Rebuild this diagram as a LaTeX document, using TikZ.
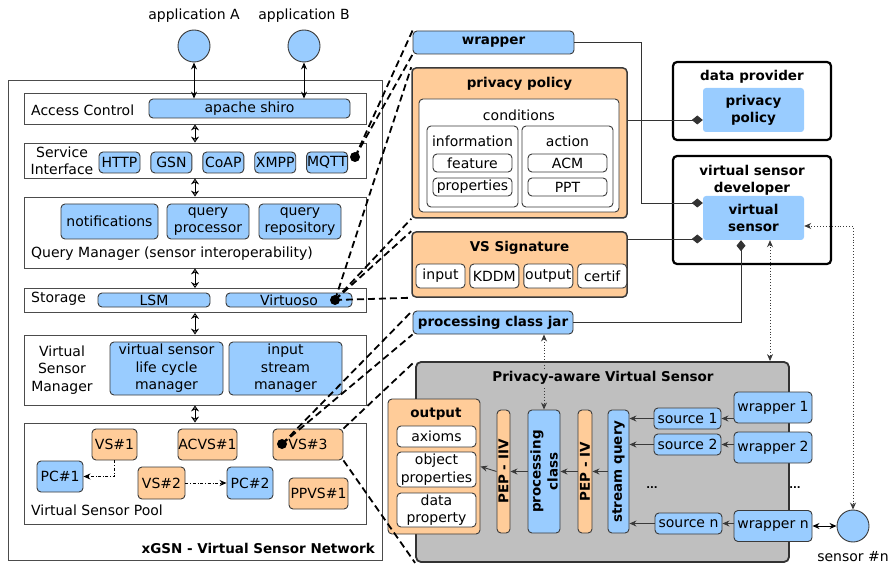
\documentclass[tikz,border=0pt]{standalone}
\usepackage{fontspec}
\setmainfont{DejaVu Sans}
\usepackage{tikz}
\usetikzlibrary{arrows.meta, positioning, calc, shapes.geometric}
\definecolor{skyBlue}{HTML}{99CCFF}
\definecolor{peach}{HTML}{FFCC99}
\definecolor{pavsGray}{HTML}{BFBFBF}
\definecolor{edgeGray}{HTML}{3A3A3A}
\tikzstyle{txt} = [inner sep=0pt, align=center]
\tikzstyle{head} = [inner sep=0pt, align=center, font=\fontsize{13.5}{17}\selectfont\bfseries]
\tikzstyle{rowbox} = [rectangle, draw=black!70, line width=0.8pt, inner sep=0pt]
\tikzstyle{bluebox} = [rectangle, rounded corners=4pt, draw=edgeGray, line width=0.9pt,
  fill=skyBlue, inner sep=0pt, align=center]
\tikzstyle{peachbox} = [bluebox, fill=peach]
\tikzstyle{whitebox} = [bluebox, fill=white]
\tikzstyle{ownerbox} = [rectangle, rounded corners=4pt, draw=black, line width=2.2pt, inner sep=0pt]
\tikzstyle{softbox} = [rectangle, rounded corners=3pt, fill=skyBlue, inner sep=0pt, align=center,
  font=\fontsize{13.5}{17}\selectfont\bfseries]
\tikzstyle{blob} = [circle, fill=black, minimum size=10pt, inner sep=0pt]
\tikzstyle{actor} = [circle, draw=edgeGray, fill=skyBlue, minimum size=32pt, inner sep=0pt, line width=0.9pt]
\tikzstyle{arw} = [-{Stealth[length=7pt,width=6pt]}, line width=0.9pt, color=edgeGray]
\tikzstyle{dbl} = [{Stealth[length=7pt,width=6pt]}-{Stealth[length=7pt,width=6pt]}, line width=0.9pt, color=black]
\tikzstyle{rowarw} = [{Stealth[length=6pt,width=8pt,open]}-{Stealth[length=6pt,width=8pt,open]}, line width=0.9pt]
\tikzstyle{dotarw} = [{Stealth[length=7pt,width=6pt]}-{Stealth[length=7pt,width=6pt]}, dotted, line width=0.9pt, color=edgeGray]
\tikzstyle{dasharw} = [-{Stealth[length=7pt,width=6pt]}, dash dot, line width=0.9pt]
\tikzstyle{owns} = [-{Diamond[length=11pt,width=9pt]}, line width=0.9pt, color=black!80]
\tikzstyle{zoomln} = [dash pattern=on 7pt off 4pt, line width=1.8pt]

\begin{document}
\begin{tikzpicture}[x=1pt, y=-1pt, font=\fontsize{14}{17.5}\selectfont]
  \useasboundingbox (0,0) rectangle (889,564);

  % Applications
  \node[actor] (appA) at (194,46) {};
  \node[actor] (appB) at (304,46) {};
  \node[txt] (appAlbl) at (194,16) {application A};
  \node[txt] (appBlbl) at (304,16) {application B};

  % xGSN frame
  \node[rowbox, minimum width=374, minimum height=480] (xgsn) at (195,320) {};
  \node[head, anchor=east] (xgsnlbl) at (375,548) {xGSN - Virtual Sensor Network};

  % Access control
  \node[rowbox, minimum width=342, minimum height=31] (acc) at (195,108.5) {};
  \node[txt, anchor=west] (acclbl) at (31,110) {Access Control};
  \node[bluebox, minimum width=201, minimum height=19] (shiro) at (249.5,108.5) {apache shiro};

  % Service interface
  \node[rowbox, minimum width=342, minimum height=35] (svc) at (195,160.5) {};
  \node[txt] (svclbl) at (62,161) {Service\\Interface};
  \node[bluebox, minimum width=41, minimum height=21] (http) at (119.5,162.5) {HTTP};
  \node[bluebox, minimum width=41, minimum height=21, right=10pt of http] (gsn) {GSN};
  \node[bluebox, minimum width=41, minimum height=21, right=10pt of gsn] (coap) {CoAP};
  \node[bluebox, minimum width=41, minimum height=21, right=10pt of coap] (xmpp) {XMPP};
  \node[bluebox, minimum width=41, minimum height=21, right=10pt of xmpp] (mqtt) {MQTT};
  \node[blob] (mqdot) at (355,157) {};

  % Query manager
  \node[rowbox, minimum width=342, minimum height=71] (qm) at (195,232.5) {};
  \node[bluebox, minimum width=97, minimum height=35] (notif) at (109.5,221.5) {notifications};
  \node[bluebox, minimum width=82, minimum height=35] (qproc) at (208,221.5) {query\\processor};
  \node[bluebox, minimum width=82, minimum height=35] (qrepo) at (300,221.5) {query\\repository};
  \node[txt, anchor=west] (qmlbl) at (31,254) {Query Manager (sensor interoperability)};

  % Storage
  \node[rowbox, minimum width=342, minimum height=24] (sto) at (195,300.5) {};
  \node[txt, anchor=west] (stolbl) at (31,299) {Storage};
  \node[bluebox, minimum width=112, minimum height=14] (lsm) at (154,300) {LSM};
  \node[bluebox, minimum width=126, minimum height=14] (virt) at (289,300) {Virtuoso};
  \node[blob] (virtdot) at (335,300) {};

  % Virtual sensor manager
  \node[rowbox, minimum width=342, minimum height=70] (vsm) at (195,370) {};
  \node[txt] (vsmlbl) at (62,370) {Virtual\\Sensor\\Manager};
  \node[bluebox, minimum width=113, minimum height=53] (lcm) at (166.5,368.5) {virtual sensor\\life cycle\\manager};
  \node[bluebox, minimum width=113, minimum height=53] (ism) at (285.5,368.5) {input\\stream\\manager};

  % Virtual sensor pool
  \node[rowbox, minimum width=342, minimum height=101] (pool) at (195,473.5) {};
  \node[peachbox, minimum width=45, minimum height=31] (vs1) at (114.5,444.5) {VS\#1};
  \node[peachbox, minimum width=59, minimum height=31] (acvs1) at (207.5,444.5) {ACVS\#1};
  \node[peachbox, minimum width=70, minimum height=31] (vs3) at (308,444.5) {VS\#3};
  \node[bluebox, minimum width=46, minimum height=31] (pc1) at (60,476.5) {PC\#1};
  \node[peachbox, minimum width=47, minimum height=32] (vs2) at (161.5,483) {VS\#2};
  \node[bluebox, minimum width=46, minimum height=32] (pc2) at (250,483) {PC\#2};
  \node[peachbox, minimum width=59, minimum height=31] (ppvs1) at (318.5,493.5) {PPVS\#1};
  \node[blob] (vs3dot) at (282,444) {};
  \node[txt, anchor=west] (poollbl) at (31,510) {Virtual Sensor Pool};

  % Arrows in xGSN
  \draw[dbl] (appA.south) -- (appA.south |- shiro.north);
  \draw[dbl] (appB.south) -- (appB.south |- shiro.north);
  \foreach \a/\b in {acc/svc, svc/qm, qm/sto, sto/vsm, vsm/pool} {
    \draw[rowarw] (\a.south) -- (\b.north);
  }
  \draw[dasharw] (vs1.south) |- (pc1.east);
  \draw[dasharw] (vs2.east) -- (pc2.west);

  % Wrapper and privacy policy
  \node[bluebox, font=\fontsize{13.5}{17}\selectfont\bfseries, minimum width=161, minimum height=23] (wrap) at (493.5,42.5) {wrapper};
  \node[peachbox, line width=1.5pt, minimum width=215, minimum height=150] (pp) at (519.5,143) {};
  \node[head] (pptitle) at (519.5,84) {privacy policy};
  \node[whitebox, minimum width=200, minimum height=113] (cond) at (519,155.5) {};
  \node[txt] (condlbl) at (519,115) {conditions};
  \node[whitebox, minimum width=91, minimum height=81] (info) at (472.5,166.5) {};
  \node[txt] (infolbl) at (472.5,141) {information};
  \node[whitebox, minimum width=79, minimum height=18] (feat) at (472.5,163) {feature};
  \node[whitebox, minimum width=79, minimum height=18] (props) at (472.5,187) {properties};
  \node[whitebox, minimum width=91, minimum height=81] (act) at (567.5,166.5) {};
  \node[txt] (actlbl) at (567.5,141) {action};
  \node[whitebox, minimum width=79, minimum height=18] (acm) at (567.5,163) {ACM};
  \node[whitebox, minimum width=79, minimum height=18] (ppt) at (567.5,187) {PPT};

  % VS signature
  \node[peachbox, line width=1.5pt, minimum width=215, minimum height=65] (sig) at (519.5,264.5) {};
  \node[head] (sigtitle) at (519.5,248) {VS Signature};
  \node[whitebox, minimum width=49, minimum height=24] (sin) at (440.5,276) {input};
  \node[whitebox, minimum width=49, minimum height=24, right=4pt of sin] (skddm) {KDDM};
  \node[whitebox, minimum width=49, minimum height=24, right=4pt of skddm] (sout) {output};
  \node[whitebox, minimum width=49, minimum height=24, right=4pt of sout] (scert) {certif};

  \node[bluebox, font=\fontsize{13.5}{17}\selectfont\bfseries, minimum width=160, minimum height=23] (jar) at (493,322.5) {processing class jar};

  % Owners
  \node[ownerbox, minimum width=158, minimum height=78] (dp) at (752,101) {};
  \node[head] (dplbl) at (752,77) {data provider};
  \node[softbox, minimum width=101, minimum height=44] (dppol) at (753.5,110) {privacy\\policy};
  \node[ownerbox, minimum width=158, minimum height=108] (vsd) at (752,210) {};
  \node[head] (vsdlbl) at (752,180) {virtual sensor\\developer};
  \node[softbox, minimum width=101, minimum height=44] (vsens) at (753.5,218) {virtual\\sensor};

  % Privacy-aware virtual sensor
  \node[rectangle, rounded corners=5pt, draw=black!80, line width=1.8pt, fill=pavsGray,
    minimum width=373, minimum height=200] (pavs) at (602.5,462) {};
  \node[peachbox, minimum width=92, minimum height=135] (out) at (434,466.5) {};
  \node[head] (outlbl) at (436,414) {output};
  \node[whitebox, minimum width=79, minimum height=21] (axi) at (436.5,436.5) {axioms};
  \node[whitebox, minimum width=79, minimum height=35] (objp) at (436.5,469.5) {object\\properties};
  \node[whitebox, minimum width=79, minimum height=34] (datp) at (436.5,510) {data\\property};
  \node[peachbox, rotate=90, font=\fontsize{13.5}{17}\selectfont\bfseries, minimum width=123, minimum height=13] (pep2) at (503.5,471.5) {PEP - IIV};
  \node[bluebox, rotate=90, font=\fontsize{13.5}{17}\selectfont\bfseries, minimum width=123, minimum height=32] (pclass) at (544,471.5) {processing\\class};
  \node[peachbox, rotate=90, font=\fontsize{13.5}{17}\selectfont\bfseries, minimum width=123, minimum height=14] (pep4) at (585,471.5) {PEP - IV};
  \node[bluebox, rotate=90, font=\fontsize{13.5}{17}\selectfont\bfseries, minimum width=123, minimum height=21] (sq) at (618.5,471.5) {stream query};
  \node[bluebox, minimum width=67, minimum height=21] (s1) at (687.5,418.5) {source 1};
  \node[bluebox, minimum width=67, minimum height=21] (s2) at (687.5,444.5) {source 2};
  \node[bluebox, minimum width=67, minimum height=21] (sn) at (688.5,523.5) {source n};
  \node[bluebox, minimum width=78, minimum height=31] (w1) at (773,407.5) {wrapper 1};
  \node[bluebox, minimum width=78, minimum height=31] (w2) at (773,447.5) {wrapper 2};
  \node[bluebox, minimum width=78, minimum height=31] (wn) at (773,526) {wrapper n};
  \node[txt, font=\bfseries] (dotsa) at (652,488) {...};
  \node[txt, font=\bfseries] (dotsb) at (795,488) {...};
  \node[actor] (sensn) at (853,526) {};
  \node[txt] (sensnlbl) at (853,557) {sensor \#n};

  % Flow inside the virtual sensor
  \foreach \w/\s in {w1/s1, w2/s2, wn/sn} {
    \draw[arw] (\w.west |- \s.east) -- (\s.east);
    \draw[arw] (\s.west) -- (\s.west -| sq.south);
  }
  \draw[arw] (sq.north) -- (pep4.south);
  \draw[arw] (pep4.north) -- (pclass.south);
  \draw[arw] (pclass.north) -- (pep2.south);
  \draw[arw] (pep2.north) -- (out.east);
  \draw[dbl] (wn.east) -- (sensn.west);

  % Ownership links
  \coordinate (wrapin) at ($(vsens.west)+(0,-15)$);
  \coordinate (polin) at ($(dppol.west)+(0,10)$);
  \coordinate (sigin) at ($(vsens.west)+(0,21)$);
  \coordinate (jarin) at ($(vsens.south)+(-12.5,0)$);
  \draw[owns] (wrap.east) -- ++(67,0) |- (wrapin);
  \draw[owns] (polin -| pp.east) -- (polin);
  \draw[owns] (sigin -| sig.east) -- (sigin);
  \draw[owns] (jar.east) -| (jarin);

  % Deployment links
  \coordinate (vsdown) at ($(vsens.south)+(16.5,0)$);
  \coordinate (vsright) at ($(vsens.east)+(0,8)$);
  \draw[dotarw] (vsdown) -- (vsdown |- pavs.north);
  \draw[dotarw] (vsright) -| (sensn.north);
  \draw[dotarw] (jar.south -| pclass.east) -- (pclass.east);

  % Title over the dotted link
  \node[head, fill=pavsGray, inner sep=2pt] (pavslbl) at (603,378) {Privacy-aware Virtual Sensor};

  % Zoom lines
  \foreach \t in {wrap.north west,wrap.south west} {
    \draw[zoomln] (mqdot.center) -- (\t);
  }
  \foreach \t in {pp.north west,pp.south west,sig.north west,sig.south west} {
    \draw[zoomln] (virtdot.center) -- (\t);
  }
  \foreach \t in {jar.north west,jar.south west} {
    \draw[zoomln] (vs3dot.center) -- (\t);
  }
  \draw[zoomln] (vs3.north east) -- (pavs.north west);
  \draw[zoomln] (vs3.south east) -- (pavs.south west);
\end{tikzpicture}
\end{document}
